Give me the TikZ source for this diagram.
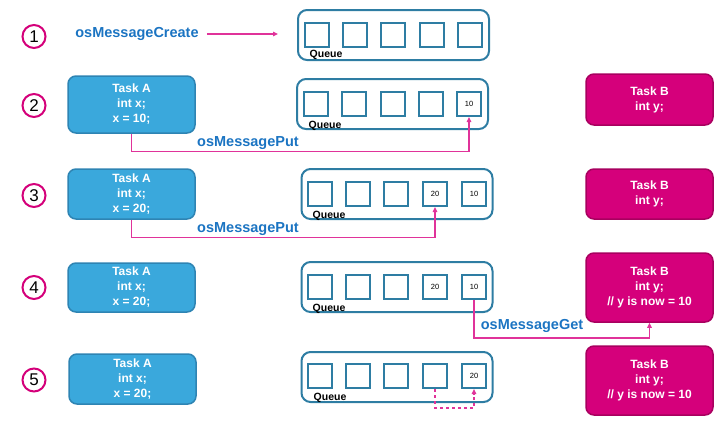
\documentclass[tikz,border=0pt]{standalone}
\usepackage{fontspec}
\setmainfont{Liberation Sans}
\usetikzlibrary{arrows.meta}
\definecolor{tablue}{HTML}{3AA8DC}
\definecolor{tablueb}{HTML}{2E84B3}
\definecolor{tbmag}{HTML}{D5007B}
\definecolor{tbmagb}{HTML}{A8005F}
\definecolor{qcol}{HTML}{2E7DA3}
\definecolor{lpink}{HTML}{E0339A}
\definecolor{lblue}{HTML}{1B74C2}
\definecolor{cmag}{HTML}{D4007A}
\tikzset{
  taskA/.style={draw=tablueb, line width=1.5pt, fill=tablue, rounded corners=8pt, text=white,
    font=\fontsize{12}{15}\selectfont\bfseries, align=center, minimum width=127pt, inner sep=0pt},
  taskB/.style={draw=tbmagb, line width=1.5pt, fill=tbmag, rounded corners=8pt, text=white,
    font=\fontsize{12}{15}\selectfont\bfseries, align=center, minimum width=127pt, inner sep=0pt},
  queue/.style={draw=qcol, line width=2pt, rounded corners=9pt, minimum width=191pt, minimum height=50pt, inner sep=0pt},
  slot/.style={draw=qcol, line width=2pt, minimum size=24pt, inner sep=0pt, font=\fontsize{7.5}{8}\selectfont},
  qlabel/.style={font=\fontsize{10.5}{11}\selectfont\bfseries, inner sep=0pt},
  oplabel/.style={text=lblue, font=\fontsize{14.5}{16}\selectfont\bfseries, inner sep=0pt},
  stepnum/.style={draw=cmag, line width=2pt, circle, minimum size=23pt, inner sep=0pt, font=\fontsize{17}{18}\selectfont},
  flow/.style={draw=lpink, line width=1.3pt, -{Triangle[length=5pt,width=4.5pt]}},
}
\begin{document}
\begin{tikzpicture}[x=1pt,y=-1pt]
\useasboundingbox (0,0) rectangle (725,423);
% step numbers
\node[stepnum] (n1) at (34,36.5) {1};
\node[stepnum] (n2) at (34,105.5) {2};
\node[stepnum] (n3) at (34,195.5) {3};
\node[stepnum] (n4) at (34,287.5) {4};
\node[stepnum] (n5) at (34,380) {5};

% row 1
\node[oplabel] (create) at (137,34) {osMessageCreate};
\node[queue] (q1) at (393.5,35) {};
\node[slot] (q1a) at (317,34.5) {};
\node[slot] (q1b) at (355,34.5) {};
\node[slot] (q1c) at (393,34.5) {};
\node[slot] (q1d) at (432,34.5) {};
\node[slot] (q1e) at (470,34.5) {};
\node[qlabel] (ql1) at (326,55) {Queue};
\draw[flow] ([xshift=8pt]create.east) -- ([xshift=-19pt]create.east -| q1.west);

% row 2
\node[taskA, minimum height=57pt] (ta2) at (131.5,104.5) {Task A\\int x;\\x = 10;};
\node[queue] (q2) at (392.5,104) {};
\node[slot] (q2a) at (316,104) {};
\node[slot] (q2b) at (354,104) {};
\node[slot] (q2c) at (393,104) {};
\node[slot] (q2d) at (431,104) {};
\node[slot] (q2e) at (469,104) {10};
\node[qlabel] (ql2) at (325,126) {Queue};
\node[taskB, minimum height=51pt] (tb2) at (649.5,99.5) {Task B\\int y;};
\draw[flow] (ta2.south) -- ++(0,18) -| (q2e.south);
\node[oplabel] (put2) at (248,143) {osMessagePut};

% row 3
\node[taskA, minimum height=50pt] (ta3) at (131.5,194) {Task A\\int x;\\x = 20;};
\node[queue] (q3) at (397,194) {};
\node[slot] (q3a) at (320,194) {};
\node[slot] (q3b) at (358,194) {};
\node[slot] (q3c) at (396,194) {};
\node[slot] (q3d) at (435,194) {20};
\node[slot] (q3e) at (474,194) {10};
\node[qlabel] (ql3) at (329,216) {Queue};
\node[taskB, minimum height=50pt] (tb3) at (649.5,194) {Task B\\int y;};
\draw[flow] (ta3.south) -- ++(0,18) -| (q3d.south);
\node[oplabel] (put3) at (248,229) {osMessagePut};

% row 4
\node[taskA, minimum height=49pt] (ta4) at (131.5,287.5) {Task A\\int x;\\x = 20;};
\node[queue] (q4) at (397,287) {};
\node[slot] (q4a) at (320,287) {};
\node[slot] (q4b) at (358,287) {};
\node[slot] (q4c) at (396,287) {};
\node[slot] (q4d) at (435,287) {20};
\node[slot] (q4e) at (474,287) {10};
\node[qlabel] (ql4) at (329,309) {Queue};
\node[taskB, minimum height=69pt] (tb4) at (649.5,287.5) {Task B\\int y;\\// y is now = 10};
\draw[flow] (q4e.south) -- ++(0,38) -| (tb4.south);
\node[oplabel] (get4) at (532,326) {osMessageGet};

% row 5
\node[taskA, minimum height=50pt] (ta5) at (132.5,379) {Task A\\int x;\\x = 20;};
\node[queue] (q5) at (397,377) {};
\node[slot] (q5a) at (320,376) {};
\node[slot] (q5b) at (358,376) {};
\node[slot] (q5c) at (396,376) {};
\node[slot] (q5d) at (435,376) {};
\node[slot] (q5e) at (474,376) {20};
\node[qlabel] (ql5) at (330,398) {Queue};
\node[taskB, minimum height=69pt] (tb5) at (649.5,380.5) {Task B\\int y;\\// y is now = 10};
\draw[flow, dashed] (q5d.south) -- ++(0,19) -| (q5e.south);
\end{tikzpicture}
\end{document}
